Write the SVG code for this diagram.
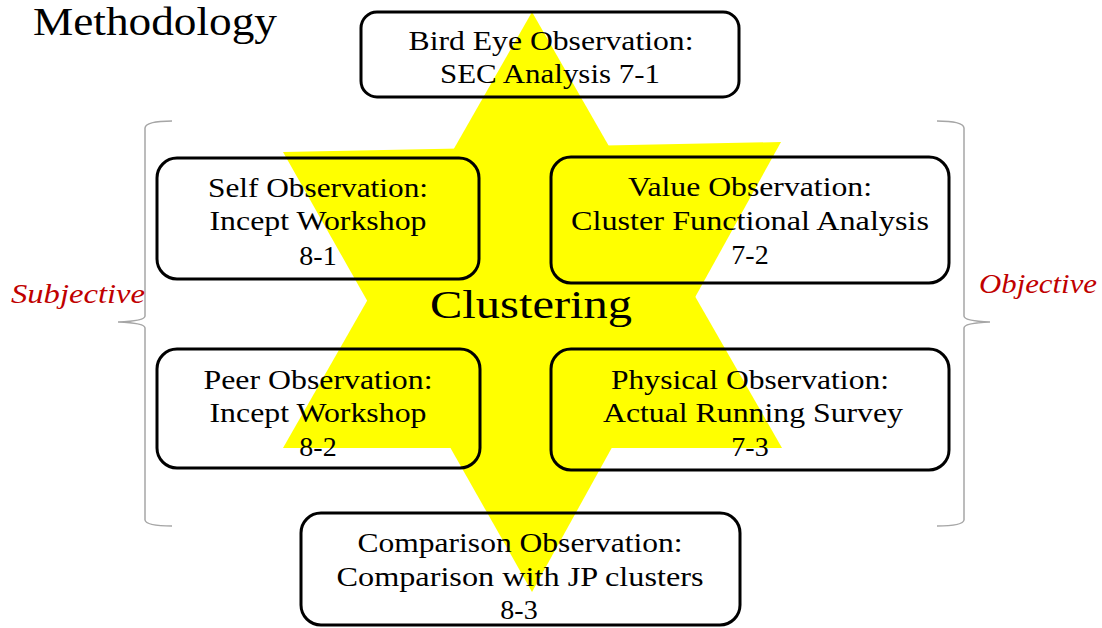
<svg xmlns="http://www.w3.org/2000/svg" width="1102" height="628" viewBox="0 0 1102 628">
<style>
.box{fill:none;stroke:#000;stroke-width:3}
text{font-family:'Liberation Serif','DejaVu Serif','Noto Serif',serif}
.t{font-size:28px;fill:#000;text-anchor:middle}
.big{font-size:40px;fill:#000}
.side{font-size:28px;font-style:italic;fill:#c00000}
.brace{fill:none;stroke:#a6a6a6;stroke-width:1.5}
</style>
<rect width="1102" height="628" fill="#fff"/>
<g id="star">
<polygon points="532,12 283,448 782,448" fill="#ffff00"/>
<polygon points="283,152 781,142 532,592" fill="#ffff00"/>
</g>
<g id="title"><text class="big" x="33" y="35" font-size="37" textLength="244" lengthAdjust="spacingAndGlyphs">Methodology</text></g>
<g id="braces">
<path class="brace" d="M172,121 Q146,121 145,128 L145,316 Q145,321 118,322 Q145,323 145,328 L145,520 Q146,526 172,526"/>
<path class="brace" d="M937,121 Q963,121 964,128 L964,316 Q964,321 990,322 Q964,323 964,328 L964,520 Q963,526 937,526"/>
</g>
<g id="subjective"><text class="side" x="11" y="303" textLength="134" lengthAdjust="spacingAndGlyphs">Subjective</text></g>
<g id="objective"><text class="side" x="979" y="293" textLength="118" lengthAdjust="spacingAndGlyphs">Objective</text></g>
<g id="bird">
<rect class="box" x="361" y="12" width="378" height="85" rx="16"/>
<text class="t" x="551" y="50" textLength="285" lengthAdjust="spacingAndGlyphs">Bird Eye Observation:</text>
<text class="t" x="550" y="83" textLength="220" lengthAdjust="spacingAndGlyphs">SEC Analysis 7-1</text>
</g>
<g id="self">
<rect class="box" x="157" y="158" width="322" height="121" rx="20"/>
<text class="t" x="318" y="197" textLength="220" lengthAdjust="spacingAndGlyphs">Self Observation:</text>
<text class="t" x="318" y="230" textLength="217" lengthAdjust="spacingAndGlyphs">Incept Workshop</text>
<text class="t" x="318" y="265">8-1</text>
</g>
<g id="value">
<rect class="box" x="551" y="157" width="398" height="126" rx="20"/>
<text class="t" x="750" y="196" textLength="244" lengthAdjust="spacingAndGlyphs">Value Observation:</text>
<text class="t" x="750" y="230" textLength="358" lengthAdjust="spacingAndGlyphs">Cluster Functional Analysis</text>
<text class="t" x="750" y="264">7-2</text>
</g>
<g id="clustering"><text class="big" x="531" y="318" text-anchor="middle" textLength="202" lengthAdjust="spacingAndGlyphs">Clustering</text></g>
<g id="peer">
<rect class="box" x="157" y="349" width="323" height="119" rx="20"/>
<text class="t" x="318" y="389" textLength="229" lengthAdjust="spacingAndGlyphs">Peer Observation:</text>
<text class="t" x="318" y="422" textLength="217" lengthAdjust="spacingAndGlyphs">Incept Workshop</text>
<text class="t" x="318" y="456">8-2</text>
</g>
<g id="physical">
<rect class="box" x="551" y="349" width="398" height="121" rx="20"/>
<text class="t" x="750" y="389" textLength="278" lengthAdjust="spacingAndGlyphs">Physical Observation:</text>
<text class="t" x="753" y="422" textLength="300" lengthAdjust="spacingAndGlyphs">Actual Running Survey</text>
<text class="t" x="750" y="456">7-3</text>
</g>
<g id="comparison">
<rect class="box" x="301" y="513" width="439" height="112" rx="20"/>
<text class="t" x="520" y="552" textLength="325" lengthAdjust="spacingAndGlyphs">Comparison Observation:</text>
<text class="t" x="520" y="586" textLength="367" lengthAdjust="spacingAndGlyphs">Comparison with JP clusters</text>
<text class="t" x="519" y="619">8-3</text>
</g>
<g id="connectors"/>
</svg>
